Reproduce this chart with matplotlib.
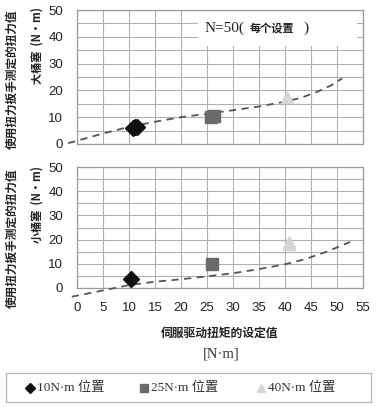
import matplotlib
matplotlib.use("Agg")
import matplotlib.pyplot as plt
from matplotlib.lines import Line2D
from matplotlib.patches import Rectangle

# measured torque per setting (cluster of readings drawn as one blob)
settings = ["10N·m 位置", "25N·m 位置", "40N·m 位置"]
big_x = [[10.8, 11.2, 11.6], [25.7, 26.4], [40.3]]
big_y = [[6.1, 6.5, 6.2], [10.0, 10.4], [17.5]]
small_x = [[10.4], [25.9], [40.8, 40.8]]
small_y = [[3.6], [9.9], [18.0, 19.0]]

# dashed trend lines
big_fit_x = [-1.7, 5, 10, 15, 20, 25, 30, 35, 40, 43, 46, 49, 51]
big_fit_y = [0.3, 3.9, 6.4, 8.3, 10.0, 11.3, 12.6, 14.0, 15.8, 17.2, 19.3, 22.0, 24.5]
small_fit_x = [-1.0, 5, 10, 15, 20, 25, 30, 35, 40, 44, 48, 52.5]
small_fit_y = [-3.6, -1.0, 1.2, 2.6, 3.6, 4.8, 6.1, 7.8, 9.8, 12.0, 15.0, 19.0]

x_ticks = [0, 5, 10, 15, 20, 25, 30, 35, 40, 45, 50, 55]
y_ticks = [0, 10, 20, 30, 40, 50]

markers = ["D", "s", "^"]
colors = ["#111111", "#6a6a6a", "#d6d6d6"]
msizes = [8, 8, 9]

CJK = ["Noto Sans CJK SC", "DejaVu Sans"]
SERIF_CJK = ["Liberation Serif", "Noto Sans CJK SC"]

W, H = 382, 407
fig = plt.figure(figsize=(W / 100, H / 100), dpi=100)
fig.patch.set_facecolor("white")


def px_axes(left, top, right, bottom):
    return fig.add_axes([left / W, 1 - bottom / H, (right - left) / W, (bottom - top) / H])


def style(ax, show_x):
    ax.set_xlim(0, 55)
    ax.set_ylim(0, 50)
    ax.set_xticks(x_ticks)
    ax.set_xticks([], minor=True)
    ax.set_yticks(y_ticks)
    ax.set_yticks(range(0, 51, 5), minor=True)
    ax.grid(True, which="both", color="#b0b0b0", lw=0.8)
    ax.set_axisbelow(True)
    ax.tick_params(which="both", length=0, labelsize=9.5, colors="#222222", pad=10)
    for lab in ax.get_xticklabels() + ax.get_yticklabels():
        lab.set_family("Liberation Sans")
    if not show_x:
        ax.tick_params(axis="x", labelbottom=False)
    for sp in ax.spines.values():
        sp.set_color("#9a9a9a")
        sp.set_linewidth(0.9)


ax1 = px_axes(77, 10, 363, 144)
ax2 = px_axes(77, 167, 363, 288)
style(ax1, False)
style(ax2, True)

for ax, xs, ys, fx, fy in [(ax1, big_x, big_y, big_fit_x, big_fit_y),
                           (ax2, small_x, small_y, small_fit_x, small_fit_y)]:
    ax.plot(fx, fy, ls=(0, (4, 3)), color="#555555", lw=1.3, clip_on=False, zorder=3)
    for i in range(3):
        ax.plot(xs[i], ys[i], ls="none", marker=markers[i], ms=msizes[i],
                color=colors[i], mec=colors[i], zorder=4)

# white box with sample count
ax1.add_patch(Rectangle((23.3, 36.4), 30.5, 13.1, facecolor="white",
                        edgecolor="none", zorder=2))
fig.text(205 / W, 1 - 28 / H, "N=50(", family="Liberation Serif", fontsize=11,
         va="center", ha="left", color="#222222")
fig.text(250 / W, 1 - 28 / H, "每个设置", family=CJK, fontsize=8, weight="bold",
         va="center", ha="left", color="#222222")
fig.text(303 / W, 1 - 28 / H, ")", family="Liberation Serif", fontsize=11,
         va="center", ha="left", color="#222222")

# y labels
for yc in [79, 238]:
    fig.text(12 / W, 1 - yc / H, "使用扭力扳手测定的扭力值", family=CJK, fontsize=8.4,
             weight="bold", rotation=90, ha="center", va="center", color="#222222")
fig.text(37 / W, 1 - 45 / H, "大桶塞  (N·m)", family=CJK, fontsize=8,
         weight="bold", rotation=90, ha="center", va="center", color="#222222")
fig.text(37 / W, 1 - 204 / H, "小桶塞  (N·m)", family=CJK, fontsize=8,
         weight="bold", rotation=90, ha="center", va="center", color="#222222")

# x label
fig.text(220 / W, 1 - 333 / H, "伺服驱动扭矩的设定值", family=CJK, fontsize=8.5,
         weight="bold", ha="center", va="center", color="#222222")
fig.text(221 / W, 1 - 354 / H, "[N·m]", family="Liberation Serif", fontsize=10.5,
         ha="center", va="center", color="#333333")

# legend drawn by hand so the entries sit where they do in the original
fig.add_artist(Rectangle((6 / W, 1 - 402 / H), 365 / W, 29 / H, transform=fig.transFigure,
                         facecolor="white", edgecolor="#b5b5b5", lw=0.9))
leg_marker_x = [30, 144, 261]
leg_text_x = [37, 151, 268]
for i in range(3):
    fig.add_artist(Line2D([leg_marker_x[i] / W], [1 - 388 / H], ls="none",
                          marker=markers[i], ms=5 if i == 0 else 6,
                          color=colors[i], mec=colors[i], transform=fig.transFigure))
    fig.text(leg_text_x[i] / W, 1 - 388 / H, settings[i], family=SERIF_CJK,
             fontsize=9.5, ha="left", va="center", color="#333333")

fig.savefig("out.png", dpi=100)
